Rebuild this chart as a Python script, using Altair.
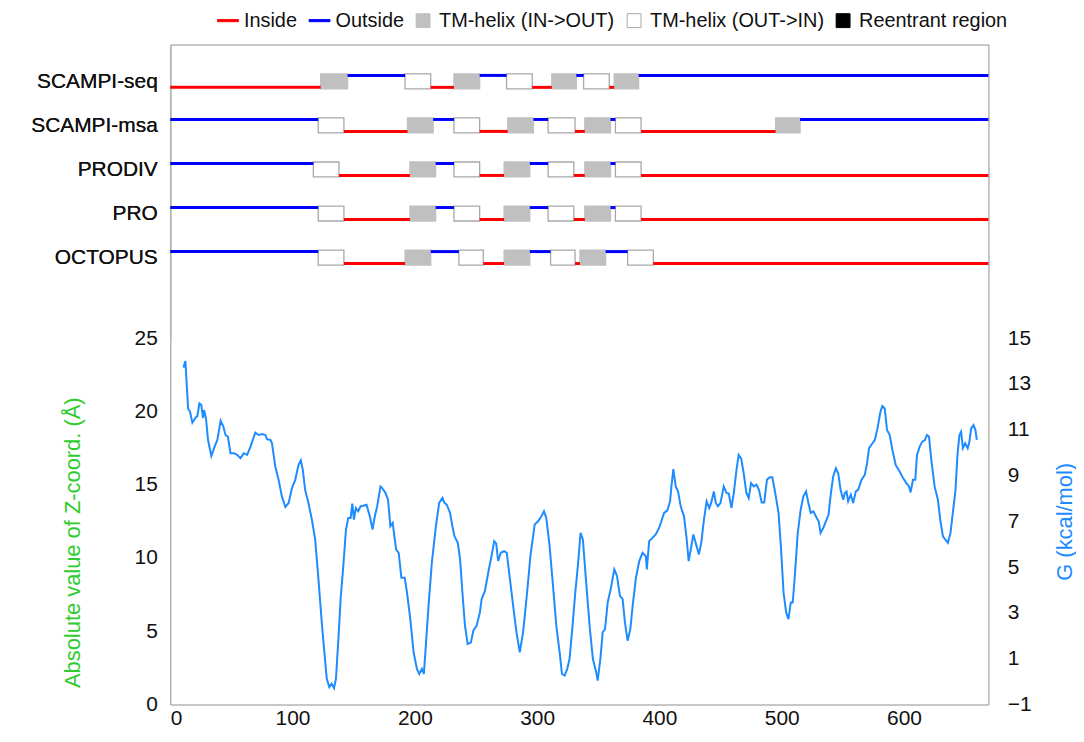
import altair as alt
import pandas as pd

# ---------------- data ----------------
seq_len = 669
methods = ["SCAMPI-seq", "SCAMPI-msa", "PRODIV", "PRO", "OCTOPUS"]
legend_labels = ["Inside", "Outside", "TM-helix (IN->OUT)", "TM-helix (OUT->IN)", "Reentrant region"]
code_names = {"i": "Inside", "o": "Outside", "H": "TM-helix (IN->OUT)", "h": "TM-helix (OUT->IN)"}

scampi_seq_bounds = [0, 123, 145, 192, 213, 232, 253, 275, 296, 312, 332, 338, 359, 363, 383, 669]
scampi_seq_codes = "iHohiHohiHohiHo"
scampi_msa_bounds = [0, 121, 142, 194, 215, 232, 253, 276, 297, 309, 331, 339, 360, 364, 385, 495, 515, 669]
scampi_msa_codes = "ohiHohiHohiHohiHo"
prodiv_bounds = [0, 117, 138, 196, 217, 232, 253, 273, 294, 309, 330, 339, 360, 364, 385, 669]
prodiv_codes = "ohiHohiHohiHohi"
pro_bounds = [0, 121, 142, 196, 217, 232, 253, 273, 294, 309, 330, 339, 360, 364, 385, 669]
pro_codes = "ohiHohiHohiHohi"
octopus_bounds = [0, 121, 142, 192, 213, 236, 256, 273, 294, 311, 331, 335, 356, 374, 395, 669]
octopus_codes = "ohiHohiHohiHohi"

residue = [10.8, 12.4, 14.6, 16.2, 18.1, 20.8, 22.2, 23.8, 25.4, 26.8, 27.6, 29.2, 30.9, 33.6, 36.3, 38.5,
           41.2, 43.3, 45.2, 47.1, 49.3, 52.0, 54.7, 57.4, 60.2, 62.9, 65.6, 69.6, 72.4, 75.1, 77.8, 79.1,
           81.9, 83.2, 85.9, 88.6, 91.3, 94.1, 96.8, 99.5, 102.2, 104.9, 106.8, 108.4, 110.3, 113.0, 115.8,
           118.5, 121.2, 123.9, 125.8, 128.0, 130.1, 132.0, 133.9, 135.5, 137.5, 139.3, 141.5, 143.7, 145.6,
           147.5, 148.9, 150.2, 151.8, 153.7, 155.6, 157.8, 160.5, 163.2, 165.4, 167.3, 169.2, 171.9, 173.3,
           176.0, 178.1, 180.0, 181.9, 183.6, 184.7, 186.8, 189.0, 191.7, 193.6, 196.3, 199.0, 201.7, 203.6,
           205.8, 207.4, 209.0, 211.2, 213.9, 217.2, 219.9, 222.6, 224.2, 226.1, 228.8, 230.7, 232.4, 235.1,
           237.0, 238.9, 241.0, 243.2, 245.9, 247.8, 250.5, 253.2, 254.6, 257.3, 260.0, 262.7, 264.9, 266.5,
           268.1, 270.3, 273.0, 275.2, 277.6, 280.4, 283.1, 285.8, 288.5, 291.8, 294.5, 298.0, 300.8, 303.5,
           305.6, 307.5, 310.2, 313.0, 315.7, 318.4, 320.3, 322.5, 324.6, 326.5, 328.7, 331.2, 333.3, 335.5,
           337.4, 340.1, 342.9, 345.6, 348.3, 349.5, 351.7, 353.6, 355.5, 357.7, 360.4, 363.1, 365.3, 367.7,
           369.9, 371.8, 374.0, 376.2, 378.1, 380.8, 383.5, 386.2, 388.9, 389.7, 391.6, 394.3, 397.0, 399.7,
           401.6, 403.8, 406.5, 408.7, 409.8, 411.4, 413.3, 415.2, 417.4, 420.1, 422.3, 423.9, 426.1, 427.7,
           429.6, 432.3, 434.2, 436.4, 438.6, 440.7, 442.3, 444.5, 446.1, 447.8, 449.9, 452.6, 454.8, 456.7,
           458.9, 460.8, 463.0, 464.8, 466.8, 468.9, 471.1, 473.0, 474.9, 477.1, 479.3, 481.4, 483.6, 485.7,
           487.9, 490.1, 492.3, 494.7, 497.4, 499.3, 501.5, 503.6, 505.5, 507.4, 509.0, 510.9, 513.1, 515.5,
           517.7, 519.9, 521.8, 523.7, 525.9, 528.6, 530.2, 531.8, 534.0, 536.1, 538.3, 540.2, 542.1, 544.3,
           546.2, 548.1, 550.3, 551.6, 553.0, 554.3, 556.5, 558.4, 560.6, 562.5, 565.2, 567.9, 569.8, 571.4,
           574.2, 576.1, 578.3, 580.7, 582.3, 584.2, 586.1, 588.3, 590.5, 593.2, 596.4, 599.2, 601.9, 604.1,
           605.4, 607.3, 609.2, 610.6, 612.8, 614.9, 617.1, 618.7, 620.4, 622.3, 625.0, 627.7, 629.6, 631.8,
           633.7, 635.9, 638.0, 639.9, 642.1, 643.7, 645.3, 646.7, 648.1, 650.0, 652.1, 653.5, 654.9, 656.8,
           658.4, 659.5]
z_coord = [22.99, 23.44, 20.2, 19.97, 19.23, 19.59, 19.68, 20.54, 20.43, 19.54, 20.09, 19.54, 18.05, 16.96,
           17.6, 18.05, 19.36, 19.0, 18.39, 18.28, 17.15, 17.15, 17.04, 16.81, 17.15, 17.04, 17.6, 18.55, 18.39,
           18.45, 18.39, 18.1, 18.05, 17.82, 16.24, 15.33, 14.2, 13.48, 13.75, 14.77, 15.33, 16.35, 16.65, 16.01,
           14.65, 13.75, 12.62, 11.26, 8.54, 5.6, 3.78, 1.75, 1.18, 1.41, 1.11, 1.75, 4.46, 7.18, 9.44, 11.94,
           12.73, 12.73, 13.7, 12.62, 13.41, 13.18, 13.52, 13.56, 13.63, 12.84, 11.94, 12.84, 13.52, 14.88,
           14.77, 14.43, 13.97, 12.16, 12.39, 11.26, 10.58, 10.35, 8.65, 8.65, 7.64, 5.82, 3.56, 2.43, 2.08,
           2.43, 2.08, 4.01, 6.73, 9.67, 12.16, 13.75, 14.09, 13.75, 13.63, 13.07, 12.16, 11.48, 11.03, 9.9,
           7.64, 5.37, 4.12, 4.24, 5.03, 5.37, 6.28, 7.18, 7.75, 8.99, 10.12, 11.14, 10.99, 9.79, 10.35, 10.46,
           10.35, 8.65, 6.73, 4.92, 3.56, 4.92, 7.64, 10.12, 12.28, 12.5, 12.84, 13.18, 12.73, 10.8, 8.08,
           5.37, 3.56, 2.08, 1.97, 2.43, 3.1, 5.14, 7.64, 9.44, 11.71, 11.26, 8.31, 5.37, 3.1, 2.2, 1.63, 3.1,
           4.92, 5.14, 6.96, 7.97, 9.22, 8.77, 7.41, 7.18, 5.59, 4.35, 5.14, 6.73, 8.65, 9.78, 10.35, 10.12,
           9.22, 11.14, 11.37, 11.6, 12.05, 12.5, 13.07, 13.25, 13.86, 14.88, 16.06, 14.88, 14.54, 13.52,
           12.84, 11.26, 9.78, 10.8, 11.6, 11.03, 10.24, 11.03, 12.62, 13.86, 13.41, 13.75, 14.54, 13.75,
           13.52, 13.75, 14.88, 14.43, 14.39, 13.41, 14.43, 16.01, 17.03, 16.8, 15.78, 14.43, 14.09, 15.11,
           14.88, 15.0, 14.65, 13.79, 13.79, 15.33, 15.51, 15.51, 14.43, 13.07, 10.8, 7.64, 6.28, 5.82, 6.96,
           6.96, 8.99, 11.71, 13.29, 14.2, 14.54, 13.75, 13.07, 13.18, 12.73, 12.5, 11.71, 12.05, 12.5, 12.96,
           14.43, 15.56, 16.12, 15.78, 14.65, 13.97, 14.43, 14.54, 13.86, 14.32, 13.75, 14.54, 14.65, 15.33,
           15.67, 16.47, 17.49, 17.83, 18.05, 18.84, 19.97, 20.36, 20.2, 18.73, 18.39, 17.37, 16.35, 15.9,
           15.45, 15.11, 14.88, 14.47, 15.33, 15.33, 17.03, 17.6, 17.94, 18.05, 18.39, 18.28, 16.69, 14.88,
           13.97, 12.62, 11.48, 11.26, 11.03, 11.71, 13.07, 14.65, 17.03, 18.39, 18.62, 17.49, 17.83, 17.49,
           17.94, 18.84, 19.07, 18.73, 18.05]

z_ticks = [0, 5, 10, 15, 20, 25]
g_ticks = [-1, 1, 3, 5, 7, 9, 11, 13, 15]
x_ticks = [0, 100, 200, 300, 400, 500, 600]

# ---------------- build tables ----------------
rows = []
for m, b, c in [("SCAMPI-seq", scampi_seq_bounds, scampi_seq_codes),
                ("SCAMPI-msa", scampi_msa_bounds, scampi_msa_codes),
                ("PRODIV", prodiv_bounds, prodiv_codes),
                ("PRO", pro_bounds, pro_codes),
                ("OCTOPUS", octopus_bounds, octopus_codes)]:
    for k, code in enumerate(c):
        rows.append({"method": m, "track": methods.index(m), "kind": code_names[code],
                     "start": b[k], "end": b[k + 1]})
seg = pd.DataFrame(rows)
legend_df = pd.DataFrame({"kind": legend_labels})
curve = pd.DataFrame({"res": residue, "z": z_coord})

# ---------------- style ----------------
FONT = "Liberation Sans"
AX = "#b4b4b4"
TXT = "#111111"
LBL = 21
fill_scale = alt.Scale(domain=legend_labels, range=["#ff0000", "#0000ff", "#c0c0c0", "#ffffff", "#000000"])
stroke_scale = alt.Scale(domain=legend_labels, range=["#ff0000", "#0000ff", "#c0c0c0", "#a8a8a8", "#000000"])
bar_path = "M-1.4,-0.14H1.4V0.14H-1.4Z"
sq_path = "M-0.93,-0.93H0.93V0.93H-0.93Z"
shape_scale = alt.Scale(domain=legend_labels, range=[bar_path, bar_path, sq_path, sq_path, sq_path])

label_expr = "[" + ",".join("'%s'" % m for m in methods) + "][datum.value]"

x_top = alt.X("start:Q", scale=alt.Scale(domain=[0, seq_len], nice=False, zero=False, padding=0),
              axis=alt.Axis(orient="top", labels=False, ticks=False, title=None, grid=False,
                            domainColor=AX, domainWidth=1.5))
y_scale_top = alt.Scale(domain=[-0.837, 5.83], reverse=True, nice=False, zero=False, padding=0)
y_left = alt.Y("track:Q", scale=y_scale_top,
               axis=alt.Axis(title=None, ticks=False, values=list(range(len(methods))), labelExpr=label_expr,
                             grid=False, labelFontSize=LBL, labelFont=FONT, labelColor=TXT,
                             labelPadding=13, domainColor=AX, domainWidth=1.5))
y_right = alt.Y("track:Q", scale=y_scale_top,
                axis=alt.Axis(orient="right", title=None, ticks=False, labels=False, grid=False,
                              domainColor=AX, domainWidth=1.5))

outside = alt.Chart(seg).transform_filter(alt.datum.kind == "Outside").mark_rule(
    strokeWidth=3, yOffset=-6).encode(
    x=x_top, x2="end:Q", y=y_left,
    stroke=alt.Stroke("kind:N", scale=stroke_scale, title=None))
inside = alt.Chart(seg).transform_filter(alt.datum.kind == "Inside").mark_rule(
    strokeWidth=3, yOffset=6).encode(
    x=x_top, x2="end:Q", y=y_left,
    stroke=alt.Stroke("kind:N", scale=stroke_scale, title=None))
helices = alt.Chart(seg).transform_filter(
    (alt.datum.kind == "TM-helix (IN->OUT)") | (alt.datum.kind == "TM-helix (OUT->IN)")).mark_bar(
    orient="horizontal", size=15, strokeWidth=1.3).encode(
    x=x_top, x2="end:Q", y=y_right,
    fill=alt.Fill("kind:N", scale=fill_scale, title=None),
    stroke=alt.Stroke("kind:N", scale=stroke_scale, title=None))
legend_layer = alt.Chart(legend_df).transform_filter("false").mark_point(filled=True, opacity=1).encode(
    fill=alt.Fill("kind:N", scale=fill_scale, title=None,
                  legend=alt.Legend(orient="none", direction="horizontal", legendX=48, legendY=-34,
                                    labelFont=FONT, labelFontSize=20, labelColor=TXT,
                                    symbolSize=225, symbolStrokeWidth=1, columnPadding=9,
                                    labelOffset=6, gridAlign="none", labelLimit=400)),
    stroke=alt.Stroke("kind:N", scale=stroke_scale, title=None),
    shape=alt.Shape("kind:N", scale=shape_scale, title=None))

top = alt.layer(helices, outside, inside, legend_layer).resolve_axis(y="independent").properties(
    width=822, height=295)

x_bot = alt.X("res:Q", scale=alt.Scale(domain=[0, seq_len], nice=False, zero=False),
              axis=alt.Axis(values=x_ticks, title=None, ticks=False, grid=False, labelFontSize=LBL,
                            labelFont=FONT, labelColor=TXT, labelPadding=3,
                            domainColor=AX, domainWidth=1.5))
z_line = alt.Chart(curve).mark_line(color="#1e8cff", strokeWidth=2).encode(
    x=x_bot,
    y=alt.Y("z:Q", scale=alt.Scale(domain=[0, 25], nice=False, zero=False),
            axis=alt.Axis(values=z_ticks, title="Absolute value of Z-coord. (Å)", titleColor="#2ecc2e",
                          titleFont=FONT, titleFontSize=22, titleFontWeight="normal", titlePadding=50,
                          titleY=205, ticks=False, grid=False, labelFontSize=LBL, labelFont=FONT,
                          labelColor=TXT, labelPadding=13, domainColor=AX, domainWidth=1.5)))
g_line = alt.Chart(curve).transform_calculate(g="-1 + datum.z * 16 / 25").mark_line(opacity=0).encode(
    x=x_bot,
    y=alt.Y("g:Q", scale=alt.Scale(domain=[-1, 15], nice=False, zero=False),
            axis=alt.Axis(orient="right", values=g_ticks, title="G (kcal/mol)", titleColor="#1e8cff",
                          titleFont=FONT, titleFontSize=22, titleFontWeight="normal", titleAngle=270,
                          titlePadding=46, ticks=False, grid=False, labelFontSize=LBL, labelFont=FONT,
                          labelColor=TXT, labelPadding=19, domainColor=AX, domainWidth=1.5)))
bottom = alt.layer(z_line, g_line).resolve_scale(y="independent").properties(width=822, height=368)

chart = alt.vconcat(top, bottom, spacing=0, bounds="flush").configure_view(stroke=None).properties(
    padding={"left": 22, "top": 1, "right": 0, "bottom": 5})

chart.save("out.html", embed_options={"renderer": "svg", "actions": False})
